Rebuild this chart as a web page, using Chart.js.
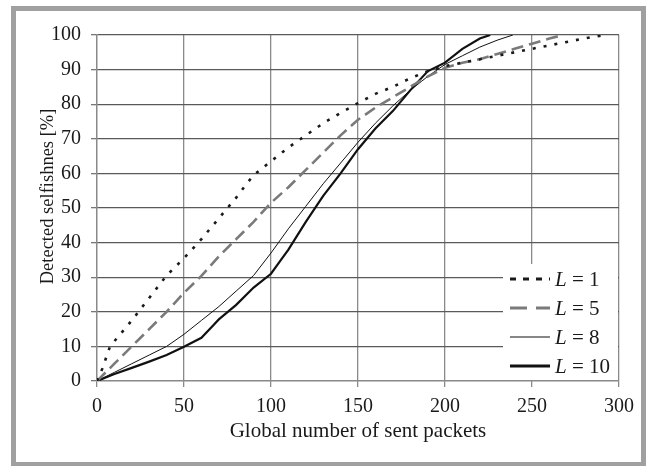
<!DOCTYPE html>
<html>
<head>
<meta charset="utf-8">
<script src="https://cdn.jsdelivr.net/npm/chart.js@4"></script>
<style>
  html, body { margin: 0; padding: 0; background: #fff; overflow: hidden; }
  #frame {
    position: absolute; left: 11px; top: 6px;
    width: 625px; height: 451px;
    border: 5px solid #a0a0a0;
  }
  #wrap { position: absolute; left: 0; top: 0; width: 646px; height: 466px; }
</style>
</head>
<body>
<div id="frame"></div>
<div id="wrap"><canvas id="chart" width="646" height="466"></canvas></div>
<script>
// L = 1
const l1X = [0, 3, 7.5, 10, 20, 30, 40, 50, 60, 70, 80, 86, 90, 100, 110, 120, 130, 140, 150, 160, 170, 180, 190, 200, 210, 220, 230, 240, 250, 260, 270, 280, 292];
const l1Y = [0, 3.5, 10, 11.5, 17.5, 24, 30.5, 35.5, 41, 47, 53, 57, 59.5, 63.5, 67.5, 71, 74.5, 77.5, 80.3, 83, 85, 87.5, 89.5, 91, 92, 93, 94, 95, 96, 97, 98, 99, 100];
// L = 5
const l5X = [0, 10, 20, 30, 40, 50, 60, 70, 80, 90, 100, 110, 120, 130, 140, 150, 160, 170, 180, 190, 200, 210, 220, 230, 240, 250, 260, 268];
const l5Y = [0, 5, 10, 15, 20, 25.5, 30.4, 36, 41, 46, 51.5, 56, 61, 66, 71, 75.5, 79, 82, 85, 88, 90.5, 92, 93, 94.5, 96, 97.5, 99, 100];
// L = 8
const l8X = [0, 10, 20, 30, 40, 50, 60, 70, 80, 90, 100, 110, 120, 130, 140, 150, 160, 170, 180, 190, 200, 210, 220, 230, 239];
const l8Y = [0, 2.5, 5, 7.5, 10, 13.5, 17.5, 21.5, 26, 30.5, 37, 44, 50.5, 57, 63, 69, 74.5, 79.5, 84, 88, 91.5, 94, 96.5, 98.5, 100];
// L = 10
const l10X = [0, 10, 20, 30, 40, 50, 60, 67, 70, 80, 90, 100, 105, 110, 120, 130, 140, 150, 160, 170, 180, 190, 200, 210, 220, 226];
const l10Y = [0, 2, 3.8, 5.6, 7.5, 9.9, 12.5, 16.2, 17.8, 22, 27, 31, 34.5, 38, 46, 53.5, 60, 67, 73, 78, 84, 89.5, 92, 96, 99, 100];

const xTicks = [0, 50, 100, 150, 200, 250, 300];
const yTicks = [0, 10, 20, 30, 40, 50, 60, 70, 80, 90, 100];
const seriesLabels = ['1', '5', '8', '10'];

const FONT = "'Liberation Serif', 'Times New Roman', serif";

function pts(xs, ys) {
  return xs.map((x, i) => ({ x: x, y: ys[i] }));
}

const datasets = [
  { label: seriesLabels[0], data: pts(l1X, l1Y), borderColor: '#1a1a1a', borderWidth: 2.6, borderDash: [3, 8] },
  { label: seriesLabels[1], data: pts(l5X, l5Y), borderColor: '#7a7a7a', borderWidth: 2.6, borderDash: [12, 6] },
  { label: seriesLabels[2], data: pts(l8X, l8Y), borderColor: '#111', borderWidth: 1, borderDash: [] },
  { label: seriesLabels[3], data: pts(l10X, l10Y), borderColor: '#111', borderWidth: 2.2, borderDash: [] }
];
datasets.forEach(d => {
  d.pointRadius = 0;
  d.tension = 0;
  d.fill = false;
});

// legend drawn inside the plot, bottom right, on a white box
const insideLegend = {
  id: 'insideLegend',
  afterDatasetsDraw(chart) {
    const ctx = chart.ctx;
    const area = chart.chartArea;
    const boxW = 116, boxH = 117;
    const bx = area.right - boxW, by = area.bottom - boxH;
    ctx.save();
    ctx.fillStyle = '#fff';
    ctx.fillRect(bx, by, boxW - 1, boxH - 1);
    ctx.textBaseline = 'middle';
    chart.data.datasets.forEach((ds, i) => {
      const y = by + 15 + i * 29;
      ctx.beginPath();
      ctx.strokeStyle = ds.borderColor;
      ctx.lineWidth = ds.borderWidth + (i === 2 ? 0 : 0.6);
      ctx.setLineDash(i === 0 ? [6, 7] : i === 1 ? [17, 9] : []);
      ctx.moveTo(bx + 7, y);
      ctx.lineTo(bx + 47, y);
      ctx.stroke();
      ctx.setLineDash([]);
      ctx.fillStyle = '#1a1a1a';
      ctx.font = 'italic 21px ' + FONT;
      const tx = bx + 52;
      ctx.fillText('L', tx, y + 1);
      const w = ctx.measureText('L').width;
      ctx.font = '21px ' + FONT;
      ctx.fillText(' = ' + ds.label, tx + w, y + 1);
    });
    ctx.restore();
  }
};

new Chart(document.getElementById('chart'), {
  type: 'line',
  data: { datasets: datasets },
  plugins: [insideLegend],
  options: {
    responsive: false,
    animation: false,
    events: [],
    layout: { padding: { left: 0, top: 35, right: 27, bottom: 0 } },
    plugins: { legend: { display: false }, tooltip: { enabled: false } },
    scales: {
      x: {
        type: 'linear',
        min: 0,
        max: 300,
        afterBuildTicks: s => { s.ticks = xTicks.map(v => ({ value: v })); },
        afterFit: s => { s.height = 85; },
        grid: { color: '#8a8a8a', lineWidth: 1.3, tickLength: 6, tickColor: '#8a8a8a' },
        border: { color: '#8a8a8a', width: 1.3 },
        ticks: { color: '#1a1a1a', font: { family: FONT, size: 20 }, padding: 8, maxRotation: 0 },
        title: {
          display: true,
          text: 'Global number of sent packets',
          color: '#1a1a1a',
          font: { family: FONT, size: 21 },
          padding: { top: 0, bottom: 22 }
        }
      },
      y: {
        type: 'linear',
        min: 0,
        max: 100,
        afterBuildTicks: s => { s.ticks = yTicks.map(v => ({ value: v })); },
        afterFit: s => { s.width = 97; },
        grid: { color: '#5a5a5a', lineWidth: 1.3, tickLength: 6, tickColor: '#777' },
        border: { color: '#8a8a8a', width: 1.3 },
        ticks: { color: '#1a1a1a', font: { family: FONT, size: 20 }, padding: 10 },
        title: {
          display: true,
          text: '     Detected selfishnes [%]',
          color: '#1a1a1a',
          font: { family: FONT, size: 18.5 },
          padding: { top: 37, bottom: 0 }
        }
      }
    }
  }
});
</script>
</body>
</html>
